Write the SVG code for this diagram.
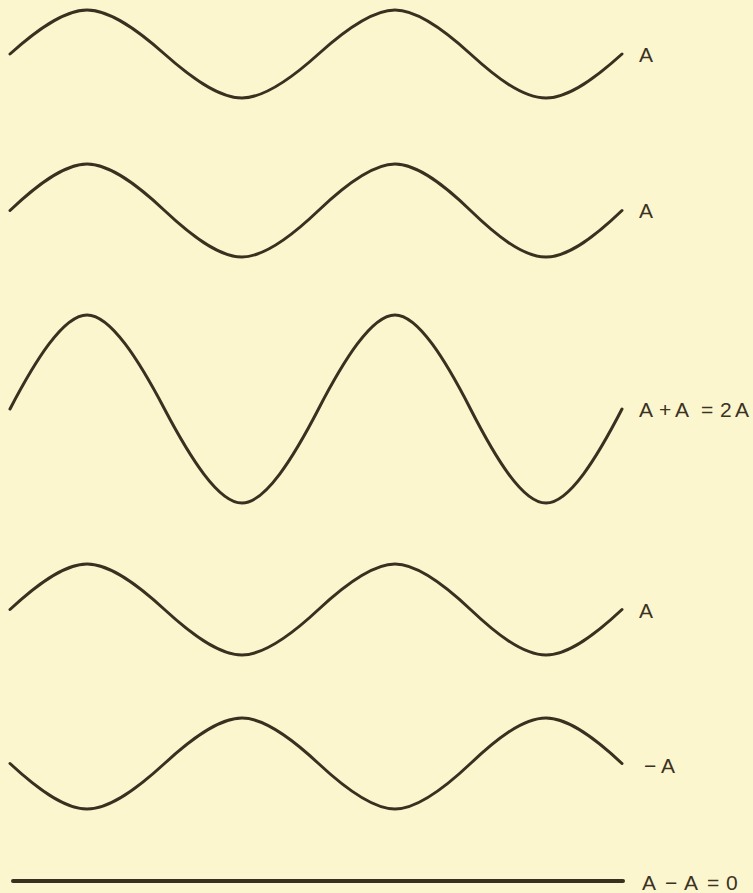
<svg xmlns="http://www.w3.org/2000/svg" width="753" height="893" viewBox="0 0 753 893">
<style>
.w{fill:none;stroke:#3a3020;stroke-width:3;stroke-linecap:round;stroke-linejoin:round;vector-effect:non-scaling-stroke}
.t{font-family:"Liberation Sans","DejaVu Sans",sans-serif;font-size:21px;fill:#3a3222}
</style>
<rect width="753" height="893" fill="#fcf6cf"/>
<g id="connectors"/>
<g id="wave1">
<path class="w" transform="translate(0,54) scale(1,44)" d="M10,0 C35.1,-0.512 63.4,-1 87,-1 C110.7,-1 139.2,-0.512 164.5,0 C189.8,0.512 218.3,1 242,1 C265.4,1 293.6,0.512 318.5,0 C343.4,-0.512 371.6,-1 395,-1 C418.1,-1 445.9,-0.512 470.5,0 C495.1,0.512 522.4,1 546,1 C569.3,1 597.2,0.512 622,0"/>
<text class="t" x="639" y="62">A</text>
</g>
<g id="wave2">
<path class="w" transform="translate(0,210.5) scale(1,46.5)" d="M10,0 C35.1,-0.512 63.4,-1 87,-1 C110.7,-1 139.2,-0.512 164.5,0 C189.8,0.512 218.3,1 242,1 C265.4,1 293.6,0.512 318.5,0 C343.4,-0.512 371.6,-1 395,-1 C418.1,-1 445.9,-0.512 470.5,0 C495.1,0.512 522.4,1 546,1 C569.3,1 597.2,0.512 622,0"/>
<text class="t" x="639" y="218">A</text>
</g>
<g id="wave3">
<path class="w" transform="translate(0,409) scale(1,94)" d="M10,0 C35.1,-0.512 63.4,-1 87,-1 C110.7,-1 139.2,-0.512 164.5,0 C189.8,0.512 218.3,1 242,1 C265.4,1 293.6,0.512 318.5,0 C343.4,-0.512 371.6,-1 395,-1 C418.1,-1 445.9,-0.512 470.5,0 C495.1,0.512 522.4,1 546,1 C569.3,1 597.2,0.512 622,0"/>
<text class="t" x="639 659 675 690 701 713 720 735" y="417">A+A = 2A</text>
</g>
<g id="wave4">
<path class="w" transform="translate(0,609.5) scale(1,45.5)" d="M10,0 C35.1,-0.512 63.4,-1 87,-1 C110.7,-1 139.2,-0.512 164.5,0 C189.8,0.512 218.3,1 242,1 C265.4,1 293.6,0.512 318.5,0 C343.4,-0.512 371.6,-1 395,-1 C418.1,-1 445.9,-0.512 470.5,0 C495.1,0.512 522.4,1 546,1 C569.3,1 597.2,0.512 622,0"/>
<text class="t" x="639" y="618">A</text>
</g>
<g id="wave5">
<path class="w" transform="translate(0,763.5) scale(1,-45.5)" d="M10,0 C35.1,-0.512 63.4,-1 87,-1 C110.7,-1 139.2,-0.512 164.5,0 C189.8,0.512 218.3,1 242,1 C265.4,1 293.6,0.512 318.5,0 C343.4,-0.512 371.6,-1 395,-1 C418.1,-1 445.9,-0.512 470.5,0 C495.1,0.512 522.4,1 546,1 C569.3,1 597.2,0.512 622,0"/>
<text class="t" x="644 661" y="773">−A</text>
</g>
<g id="result">
<line x1="13" y1="881" x2="623" y2="881" stroke="#3a3020" stroke-width="4" stroke-linecap="round"/>
<text class="t" x="642 665 684 700 707 720 726" y="890">A−A = 0</text>
</g>
</svg>
